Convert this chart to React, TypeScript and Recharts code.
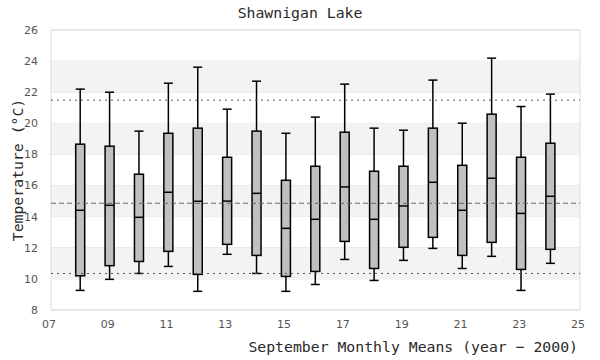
import React from 'react';
import { ComposedChart, Bar, XAxis, YAxis, CartesianGrid, ReferenceLine, ReferenceArea } from 'recharts';

// September monthly means, years since 2000
const YEARS = [8, 9, 10, 11, 12, 13, 14, 15, 16, 17, 18, 19, 20, 21, 22, 23, 24];
const WHISKER_LOW = [9.26, 9.97, 10.35, 10.8, 9.2, 11.58, 10.35, 9.2, 9.64, 11.25, 9.9, 11.19, 11.96, 10.67, 11.45, 9.26, 11.0];
const Q1 = [10.2, 10.85, 11.12, 11.77, 10.29, 12.22, 11.51, 10.16, 10.48, 12.41, 10.67, 12.03, 12.67, 11.51, 12.35, 10.61, 11.9];
const MEDIAN = [14.41, 14.73, 13.96, 15.57, 14.99, 15.0, 15.5, 13.25, 13.83, 15.91, 13.83, 14.69, 16.21, 14.41, 16.47, 14.21, 15.31];
const Q3 = [18.66, 18.53, 16.73, 19.36, 19.69, 17.82, 19.5, 16.34, 17.24, 19.43, 16.92, 17.24, 19.69, 17.3, 20.59, 17.82, 18.72];
const WHISKER_HIGH = [22.2, 22.0, 19.5, 22.58, 23.61, 20.91, 22.71, 19.36, 20.4, 22.52, 19.69, 19.56, 22.78, 20.01, 24.19, 21.08, 21.88];

const X_TICKS = [7, 9, 11, 13, 15, 17, 19, 21, 23, 25];
const Y_TICKS = [8, 10, 12, 14, 16, 18, 20, 22, 24, 26];
const BANDS = [[10, 12], [14, 16], [18, 20], [22, 24]];

const OVERALL_MEAN = 14.86;
const UPPER_LIMIT = 21.49;
const LOWER_LIMIT = 10.35;

const data = YEARS.map((yr, i) => ({
  year: yr,
  range: [WHISKER_LOW[i], WHISKER_HIGH[i]],
  low: WHISKER_LOW[i],
  q1: Q1[i],
  median: MEDIAN[i],
  q3: Q3[i],
  high: WHISKER_HIGH[i],
}));

const mono = '"DejaVu Sans Mono", monospace';
const sans = '"DejaVu Sans", sans-serif';

// draws the whole box plot inside the range bar's pixel box
const BoxShape = (props: any) => {
  const { x, y, width, height, payload } = props;
  if (!payload) return null;
  const top = Math.min(y, y + height);
  const bottom = Math.max(y, y + height);
  const { low, q1, median, q3, high } = payload;
  const py = (v: number) => top + ((high - v) / (high - low)) * (bottom - top);
  const cx = x + width / 2;
  return (
    <g>
      <line x1={cx} x2={cx} y1={py(high)} y2={py(q3)} stroke="#000" strokeWidth={1.5} />
      <line x1={cx} x2={cx} y1={py(q1)} y2={py(low)} stroke="#000" strokeWidth={1.5} />
      <line x1={x} x2={x + width} y1={py(high)} y2={py(high)} stroke="#000" strokeWidth={1.5} />
      <line x1={x} x2={x + width} y1={py(low)} y2={py(low)} stroke="#000" strokeWidth={1.5} />
      <rect x={x} y={py(q3)} width={width} height={py(q1) - py(q3)} fill="#c0c0c0" stroke="#000" strokeWidth={1.5} />
      <line x1={x} x2={x + width} y1={py(median)} y2={py(median)} stroke="#000" strokeWidth={1.5} />
    </g>
  );
};

export default function App() {
  return (
    <div style={{ position: 'absolute', left: 0, top: 0, width: 600, height: 360, background: '#fff' }}>
      <ComposedChart width={600} height={360} data={data} margin={{ top: 30, right: 20, left: 0, bottom: 0 }}>
        {BANDS.map(([a, b]) => (
          <ReferenceArea key={a} y1={a} y2={b} x1={7} x2={25} fill="#f3f3f3" fillOpacity={1} stroke="none" />
        ))}
        <CartesianGrid vertical={false} stroke="#e2e2e2" />
        <ReferenceArea x1={7} x2={25} y1={8} y2={26} fill="none" stroke="#dcdcdc" />
        <XAxis
          dataKey="year"
          type="number"
          domain={[7, 25]}
          ticks={X_TICKS}
          tickFormatter={(v) => String(v).padStart(2, '0')}
          tickLine={false}
          axisLine={false}
          tickSize={0}
          tickMargin={10}
          height={50}
          tick={{ fill: '#555', fontSize: 11, fontFamily: sans, dx: -2 }}
        />
        <YAxis
          domain={[8, 26]}
          ticks={Y_TICKS}
          tickLine={false}
          axisLine={false}
          tickSize={0}
          tickMargin={13}
          width={51}
          tick={{ fill: '#555', fontSize: 11, fontFamily: sans }}
        />
        <ReferenceLine y={UPPER_LIMIT} stroke="#555" strokeDasharray="2 4" />
        <ReferenceLine y={OVERALL_MEAN} stroke="#666" strokeDasharray="5 3" />
        <ReferenceLine y={LOWER_LIMIT} stroke="#555" strokeDasharray="2 4" />
        <Bar dataKey="range" barSize={9} shape={BoxShape} isAnimationActive={false} />
        <text x={300} y={18} textAnchor="middle" fontFamily={mono} fontSize={14.8} fill="#2a2a2a">
          Shawnigan Lake
        </text>
        <text x={578} y={352} textAnchor="end" fontFamily={mono} fontSize={14.8} fill="#2a2a2a">
          September Monthly Means (year − 2000)
        </text>
        <text transform="translate(23,170) rotate(-90)" textAnchor="middle" fontFamily={mono} fontSize={14.8} fill="#2a2a2a">
          Temperature (°C)
        </text>
      </ComposedChart>
    </div>
  );
}
